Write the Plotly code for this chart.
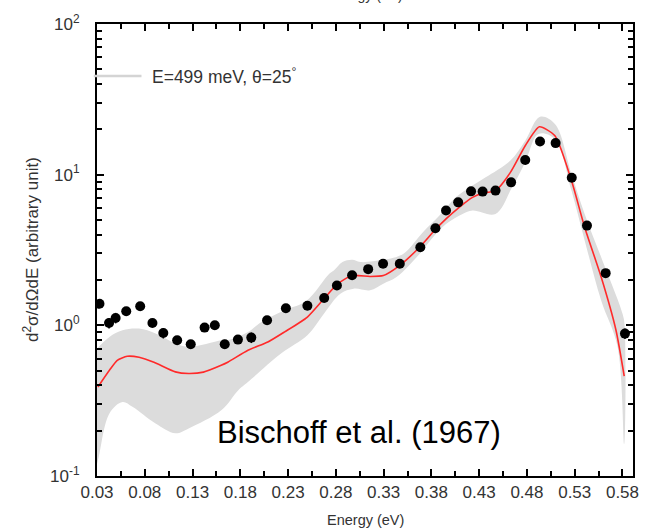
import plotly.graph_objects as go

# Experimental points (Bischoff et al. 1967)
pt_x = [0.0326, 0.0426, 0.0495, 0.0606, 0.0752, 0.0880, 0.0994, 0.1139, 0.1281, 0.1426,
        0.1533, 0.1637, 0.1775, 0.1915, 0.2080, 0.2277, 0.2502, 0.2678, 0.2811, 0.2970,
        0.3138, 0.3294, 0.3469, 0.3684, 0.3842, 0.3953, 0.4080, 0.4215, 0.4336, 0.4471,
        0.4634, 0.4782, 0.4937, 0.5100, 0.5269, 0.5428, 0.5624, 0.5826]
pt_y = [1.39, 1.035, 1.12, 1.24, 1.34, 1.035, 0.889, 0.796, 0.749, 0.966,
        1.0, 0.749, 0.804, 0.829, 1.08, 1.30, 1.35, 1.52, 1.84, 2.15,
        2.36, 2.56, 2.56, 3.30, 4.41, 5.78, 6.55, 7.75, 7.72, 7.84,
        8.89, 12.5, 16.6, 16.2, 9.55, 4.59, 2.22, 0.881]
pt_err = [0, 0.08, 0.08, 0, 0, 0, 0.08, 0, 0, 0,
          0, 0.07, 0, 0.08, 0, 0, 0, 0, 0, 0,
          0, 0, 0, 0, 0, 0, 0, 0, 0, 0,
          0, 0, 0, 0, 0, 0, 0, 0.08]

# Model curve
line_x = [0.031, 0.0430, 0.0512, 0.0616, 0.0740, 0.0896, 0.1120, 0.1259, 0.1414, 0.1600,
          0.1673, 0.1880, 0.2088, 0.2264, 0.2502, 0.2675, 0.2813, 0.2969, 0.3158, 0.3297,
          0.3469, 0.3676, 0.3832, 0.3953, 0.4091, 0.4230, 0.4333, 0.4471, 0.4627, 0.4782,
          0.4930, 0.5093, 0.5266, 0.5404, 0.5577, 0.5732, 0.5818]
line_y = [0.39, 0.503, 0.586, 0.623, 0.614, 0.569, 0.491, 0.479, 0.489, 0.543,
          0.571, 0.683, 0.775, 0.905, 1.135, 1.50, 1.87, 2.14, 2.11, 2.14,
          2.50, 3.30, 4.26, 5.09, 6.07, 7.07, 7.52, 7.84, 10.36, 15.56,
          20.8, 18.1, 9.13, 4.48, 2.09, 0.927, 0.46]

# Uncertainty band
up_x = [0.0300, 0.0430, 0.0567, 0.0740, 0.0913, 0.1120, 0.1259, 0.1604, 0.1673, 0.1880,
        0.2018, 0.2264, 0.2490, 0.2731, 0.2779, 0.2869, 0.2972, 0.3055, 0.3297, 0.3504,
        0.3711, 0.3884, 0.4056, 0.4230, 0.4368, 0.4627, 0.4782, 0.4937, 0.5093, 0.5266,
        0.5404, 0.5577, 0.5801, 0.5822]
up_y = [0.70, 0.837, 0.927, 0.951, 0.881, 0.757, 0.718, 0.796, 0.80, 0.903,
        1.05, 1.26, 1.45, 2.20, 2.31, 2.63, 2.72, 2.63, 2.72, 2.98,
        4.15, 5.35, 7.07, 8.46, 9.60, 12.4, 16.8, 24.2, 21.7, 10.1,
        5.49, 2.83, 1.19, 1.0]
lo_x = [0.0300, 0.0319, 0.0430, 0.0567, 0.0671, 0.0913, 0.1120, 0.1259, 0.1604, 0.1777,
        0.1880, 0.2226, 0.2502, 0.2675, 0.2847, 0.2986, 0.3158, 0.3297, 0.3435, 0.3676,
        0.3832, 0.3953, 0.4126, 0.4230, 0.4471, 0.4644, 0.4782, 0.4920, 0.5093, 0.5266,
        0.5404, 0.5577, 0.5749, 0.5818]
lo_y = [0.12, 0.134, 0.26, 0.31, 0.288, 0.223, 0.192, 0.207, 0.274, 0.37,
        0.42, 0.65, 0.859, 1.195, 1.62, 1.75, 1.71, 1.89, 2.09, 2.98,
        3.95, 4.71, 5.49, 5.78, 5.49, 8.24, 12.1, 18.6, 17.2, 7.84,
        3.66, 1.46, 0.718, 0.163]

x_ticks = [0.03, 0.08, 0.13, 0.18, 0.23, 0.28, 0.33, 0.38, 0.43, 0.48, 0.53, 0.58]
y_ticks = [0.1, 1, 10, 100]
y_tick_text = ["10<sup>-1</sup>", "10<sup>0</sup>", "10<sup>1</sup>", "10<sup>2</sup>"]

FONT = "Liberation Sans, Arial, sans-serif"
TXT = "#333333"

fig = go.Figure()

band_x = up_x + lo_x[::-1]
band_y = up_y + lo_y[::-1]
fig.add_trace(go.Scatter(x=band_x, y=band_y, fill="toself", fillcolor="#dcdcdc",
                         line=dict(width=0, color="#dcdcdc"), mode="lines",
                         line_shape="spline", hoverinfo="skip", showlegend=False))
fig.add_trace(go.Scatter(x=line_x, y=line_y, mode="lines",
                         line=dict(color="#ff2a2a", width=1.6, shape="spline", smoothing=0.6),
                         showlegend=False))
err_plus = [y * e for y, e in zip(pt_y, pt_err)]
fig.add_trace(go.Scatter(x=pt_x, y=pt_y, mode="markers",
                         marker=dict(color="black", size=10),
                         error_y=dict(type="data", array=err_plus, arrayminus=err_plus,
                                      color="black", thickness=1.5, width=0),
                         showlegend=False))

axis_common = dict(showline=True, linecolor="black", linewidth=2, mirror="ticks",
                   ticks="inside", tickcolor="black", tickwidth=2, ticklen=7,
                   showgrid=False, zeroline=False,
                   tickfont=dict(family=FONT, size=17, color=TXT))

fig.update_xaxes(range=[0.03, 0.591], tickmode="array", tickvals=x_ticks,
                 ticktext=["%.2f" % v for v in x_ticks],
                 minor=dict(ticks="inside", tickmode="linear", tick0=0.055, dtick=0.05,
                            ticklen=5, tickwidth=2, tickcolor="black"),
                 **axis_common)
fig.update_yaxes(type="log", range=[-1, 2], tickmode="array", tickvals=y_ticks,
                 ticktext=y_tick_text, ticklabelstandoff=12,
                 minor=dict(ticks="inside", dtick="D1", ticklen=5, tickwidth=2,
                            tickcolor="black"),
                 **axis_common)

# legend entry drawn manually
fig.add_shape(type="line", xref="paper", yref="paper", x0=-0.006, x1=0.083, y0=0.885, y1=0.885,
              line=dict(color="#d4d4d4", width=2.5))
fig.add_annotation(xref="paper", yref="paper", x=0.099, y=0.885, xanchor="left", yanchor="middle",
                   text="E=499 meV, θ=25<sup>°</sup>", showarrow=False,
                   font=dict(family=FONT, size=17.5, color=TXT))
fig.add_annotation(xref="paper", yref="paper", x=0.489, y=0.097, xanchor="center", yanchor="middle",
                   text="Bischoff et al. (1967)", showarrow=False,
                   font=dict(family=FONT, size=31, color="black"))
# axis titles
fig.add_annotation(xref="paper", yref="paper", x=0.5, y=0, yshift=-44, xanchor="center",
                   yanchor="middle", text="Energy (eV)", showarrow=False,
                   font=dict(family=FONT, size=14.5, color=TXT))
fig.add_annotation(xref="paper", yref="paper", x=0, xshift=-66, y=0.5, xanchor="center",
                   yanchor="middle", text="d<sup>2</sup>σ/dΩdE (arbitrary unit)", textangle=-90,
                   showarrow=False, font=dict(family=FONT, size=17, color=TXT))
# clipped title fragment at the very top
fig.add_annotation(xref="paper", yref="paper", x=0.5, y=1, yshift=29, xanchor="center",
                   yanchor="middle", text="Energy (eV)", showarrow=False,
                   font=dict(family=FONT, size=14, color=TXT))

fig.update_layout(width=651, height=528, margin=dict(l=97, r=12, t=23, b=52),
                  paper_bgcolor="white", plot_bgcolor="white", showlegend=False)

fig.write_html("out.html")
